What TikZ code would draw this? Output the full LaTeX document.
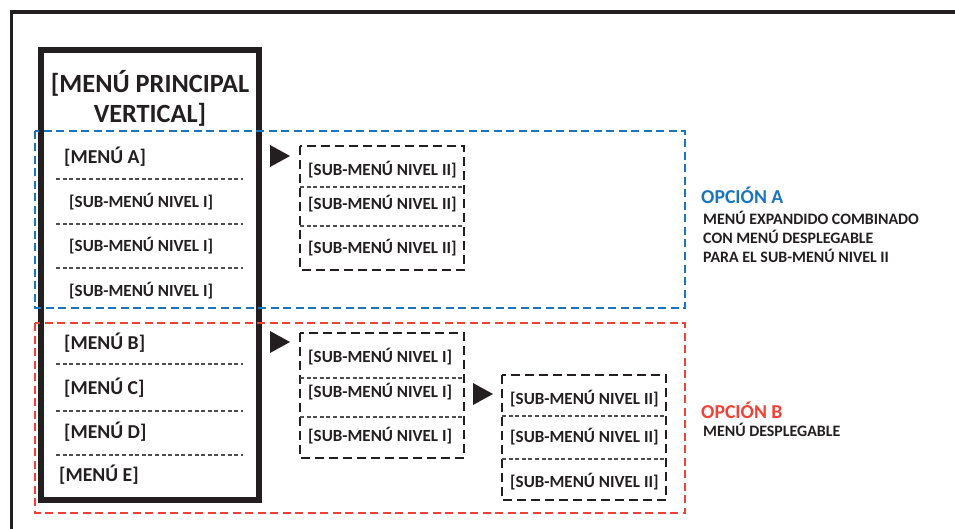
\documentclass[tikz,border=0pt]{standalone}
\usepackage{fontspec}
\setmainfont{Carlito}
\usepackage{xcolor}
\usepackage{tikz}
\usetikzlibrary{positioning}

\definecolor{ink}{RGB}{35,31,32}
\definecolor{optblue}{RGB}{27,117,188}
\definecolor{optred}{RGB}{239,65,54}

\begin{document}
\begin{tikzpicture}[x=1pt,y=-1pt,ink,
  main item/.style={anchor=west,inner sep=0pt,font=\fontsize{19.7}{22}\selectfont\bfseries},
  sub item/.style={anchor=west,inner sep=0pt,font=\fontsize{17}{20}\selectfont\bfseries},
  sep line/.style={line width=1.2pt,dash pattern=on 4pt off 2.6pt,ink!80},
  drop box/.style={line width=2.6pt,dash pattern=on 9pt off 5pt},
  option box/.style={line width=2.5pt,dash pattern=on 8pt off 4.5pt},
  option title/.style={anchor=west,inner sep=0pt,font=\fontsize{19.7}{22}\selectfont\bfseries},
  option text/.style={anchor=north west,inner sep=0pt,align=left,
    font=\fontsize{15.9}{19}\selectfont\bfseries}]

  \useasboundingbox (0,0) rectangle (955,529);

  % outer frame (cut by the page)
  \draw[line width=3.5pt] (11.5,529) |- (955,12);

  % vertical main menu
  \draw[line width=6pt] (41,50) rectangle (259,500);
  \node[align=center,inner sep=0pt,font=\fontsize{26.3}{30}\selectfont\bfseries]
    (title) at (150,98) {[MENÚ PRINCIPAL\\VERTICAL]};

  \node[main item] (menuA) at (64,157) {[MENÚ A]};
  \node[sub item] (sub1) at (69,202) {[SUB-MENÚ NIVEL I]};
  \node[sub item] (sub2) at (69,246) {[SUB-MENÚ NIVEL I]};
  \node[sub item] (sub3) at (69,291) {[SUB-MENÚ NIVEL I]};
  \node[main item] (menuB) at (64,343) {[MENÚ B]};
  \node[main item] (menuC) at (64,388) {[MENÚ C]};
  \node[main item] (menuD) at (64,432) {[MENÚ D]};
  \node[main item] (menuE) at (59,475) {[MENÚ E]};

  \draw[sep line] (56,179) -- (243,179);
  \draw[sep line] (56,224) -- (243,224);
  \draw[sep line] (56,268) -- (243,268);
  \draw[sep line] (56,364) -- (243,364);
  \draw[sep line] (56,411) -- (243,411);
  \draw[sep line] (56,455) -- (243,455);

  % option A: level II list
  \fill (270,145) -- (290,156) -- (270,167) -- cycle;
  \draw[drop box] (300,146) rectangle (464,270);
  \node[sub item] (twoA1) at (308,170) {[SUB-MENÚ NIVEL II]};
  \node[sub item] (twoA2) at (308,204) {[SUB-MENÚ NIVEL II]};
  \node[sub item] (twoA3) at (308,248) {[SUB-MENÚ NIVEL II]};
  \draw[sep line] (300,187) -- (464,187);
  \draw[sep line] (300,226) -- (464,226);

  % option B: level I list
  \fill (270,331) -- (290,342) -- (270,353) -- cycle;
  \draw[drop box] (300,333) rectangle (464,458);
  \node[sub item] (oneB1) at (308,357) {[SUB-MENÚ NIVEL I]};
  \node[sub item] (oneB2) at (308,392) {[SUB-MENÚ NIVEL I]};
  \node[sub item] (oneB3) at (308,436) {[SUB-MENÚ NIVEL I]};
  \draw[sep line] (300,378) -- (464,378);
  \draw[sep line] (300,417) -- (464,417);

  % option B: level II list
  \fill (473,383) -- (493,394) -- (473,405) -- cycle;
  \draw[drop box] (502,375) rectangle (666,500);
  \node[sub item] (twoB1) at (510,399) {[SUB-MENÚ NIVEL II]};
  \node[sub item] (twoB2) at (510,437) {[SUB-MENÚ NIVEL II]};
  \node[sub item] (twoB3) at (510,482) {[SUB-MENÚ NIVEL II]};
  \draw[sep line] (502,416) -- (666,416);
  \draw[sep line] (502,459) -- (666,459);

  % option frames
  \draw[option box,optblue] (35,131) rectangle (685,308);
  \draw[option box,optred] (35,323) rectangle (685,513);

  \node[option title,optblue] (optA) at (701,195) {OPCIÓN A};
  \node[option text] (descA) at (703,211)
    {MENÚ EXPANDIDO COMBINADO\\CON MENÚ DESPLEGABLE\\PARA EL SUB-MENÚ NIVEL II};
  \node[option title,optred] (optB) at (701,410) {OPCIÓN B};
  \node[option text] (descB) at (703,423) {MENÚ DESPLEGABLE};
\end{tikzpicture}
\end{document}
